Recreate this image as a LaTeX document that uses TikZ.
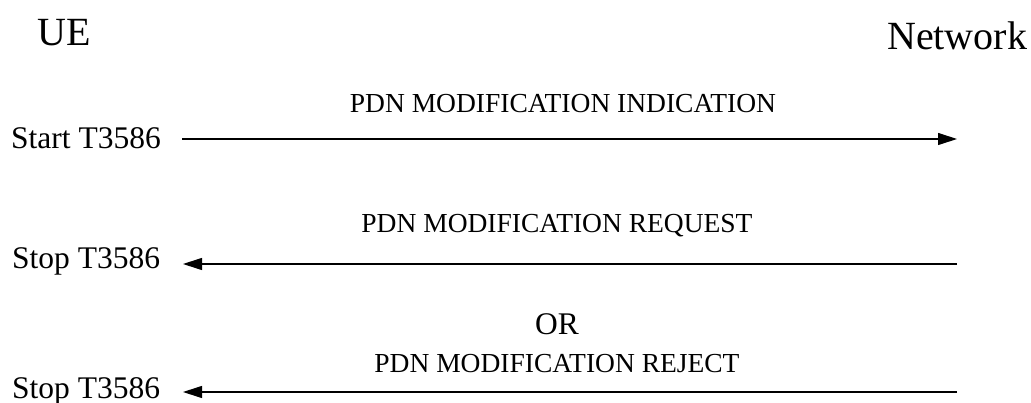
\documentclass[tikz,border=0pt]{standalone}
\usepackage{fontspec}
\setmainfont{Liberation Serif}
\usetikzlibrary{arrows.meta,positioning}

\tikzset{
    entity/.style={inner sep=0pt,font=\fontsize{40}{48}\selectfont},
    timer/.style={inner sep=0pt,font=\fontsize{31.5}{38}\selectfont},
    msgtext/.style={inner sep=0pt,font=\fontsize{27.5}{33}\selectfont},
    msg/.style={line width=1.1pt,-{Triangle[length=19pt,width=12pt]}}
}

\begin{document}
\begin{tikzpicture}[x=1pt,y=-1pt]
    \useasboundingbox (0,0) rectangle (1031,403);

    % UE and Network
    \node[entity,anchor=base west] (ue) at (37,46) {UE};
    \node[entity,anchor=base west] (net) at (887,50) {Network};

    % Indication
    \node[timer,anchor=base west] (start) at (11,149) {Start T3586};
    \coordinate (ind-ue) at (182,139);
    \coordinate (ind-net) at (957,139);
    \draw[msg] (ind-ue) -- (ind-net);
    \node[msgtext,anchor=base] (ind) at (563,113) {PDN MODIFICATION INDICATION};

    % Request
    \node[timer,anchor=base west] (stop1) at (12,269) {Stop T3586};
    \coordinate (req-ue) at (183,264);
    \coordinate (req-net) at (957,264);
    \draw[msg] (req-net) -- (req-ue);
    \node[msgtext,anchor=base] (req) at (557,233) {PDN MODIFICATION REQUEST};

    \node[timer,anchor=base] (or) at (557,335) {OR};

    % Reject
    \node[timer,anchor=base west] (stop2) at (12,398) {Stop T3586};
    \coordinate (rej-ue) at (183,392);
    \coordinate (rej-net) at (957,392);
    \draw[msg] (rej-net) -- (rej-ue);
    \node[msgtext,anchor=base] (rej) at (557,373) {PDN MODIFICATION REJECT};
\end{tikzpicture}
\end{document}
